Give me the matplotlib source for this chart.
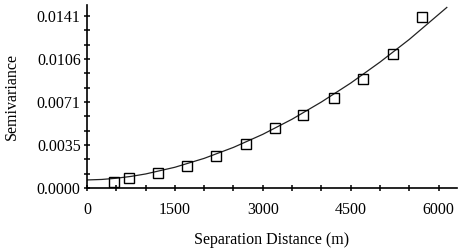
import matplotlib
matplotlib.use("Agg")
import matplotlib.pyplot as plt

# observed semivariance points
sep_dist = [460, 720, 1210, 1710, 2200, 2710, 3210, 3690, 4210, 4710, 5220, 5720]
semivar = [0.00049, 0.00082, 0.00123, 0.00180, 0.00262, 0.00360, 0.00490, 0.00600,
           0.00740, 0.00890, 0.01100, 0.01400]

# fitted model curve
model_x = [0, 250, 500, 750, 1000, 1500, 2000, 2500, 3000, 3500, 4000, 4500, 5000, 5500, 6140]
model_y = [0.00066, 0.00070, 0.00080, 0.00095, 0.00115, 0.00170, 0.00243, 0.00333,
           0.00440, 0.00564, 0.00705, 0.00860, 0.01032, 0.01218, 0.01480]

xticks = [0, 1500, 3000, 4500, 6000]
xtick_labels = ["0", "1500", "3000", "4500", "6000"]
yticks = [0.0, 0.003525, 0.00705, 0.010575, 0.0141]
ytick_labels = ["0.0000", "0.0035", "0.0071", "0.0106", "0.0141"]

plt.rcParams['font.family'] = ['Liberation Serif', 'DejaVu Serif']

fig = plt.figure(figsize=(4.6, 2.5), dpi=100)
ax = fig.add_axes([87/460, 1-188/250, (457-87)/460, (188-5)/250])

ax.plot(model_x, model_y, color='#222222', lw=0.9)
ax.plot(sep_dist, semivar, linestyle='none', marker='s', markersize=7.4,
        markerfacecolor='none', markeredgecolor='black', markeredgewidth=1.0)

ax.set_xlim(0, 6314)
ax.set_ylim(0, 0.0150)
ax.set_xticks(xticks)
ax.set_xticklabels(xtick_labels)
ax.set_yticks(yticks)
ax.set_yticklabels(ytick_labels)
ax.set_xticks([x for x in range(0, 6301, 500) if x % 1500 != 0], minor=True)
ax.set_yticks([i * 0.001175 for i in range(13) if i % 3 != 0], minor=True)

for s in ['top', 'right']:
    ax.spines[s].set_visible(False)
for s in ['left', 'bottom']:
    ax.spines[s].set_linewidth(1.2)

ax.tick_params(axis='y', which='both', direction='inout', length=5, width=1.1, labelsize=11.5, pad=2)
ax.tick_params(axis='x', which='both', direction='inout', length=4, width=1.1, labelsize=11.5, pad=8)

ax.set_xlabel("Separation Distance (m)", fontsize=11.5, labelpad=10)
ax.set_ylabel("Semivariance", fontsize=11.5, labelpad=12)

fig.savefig("out.png", dpi=100)
